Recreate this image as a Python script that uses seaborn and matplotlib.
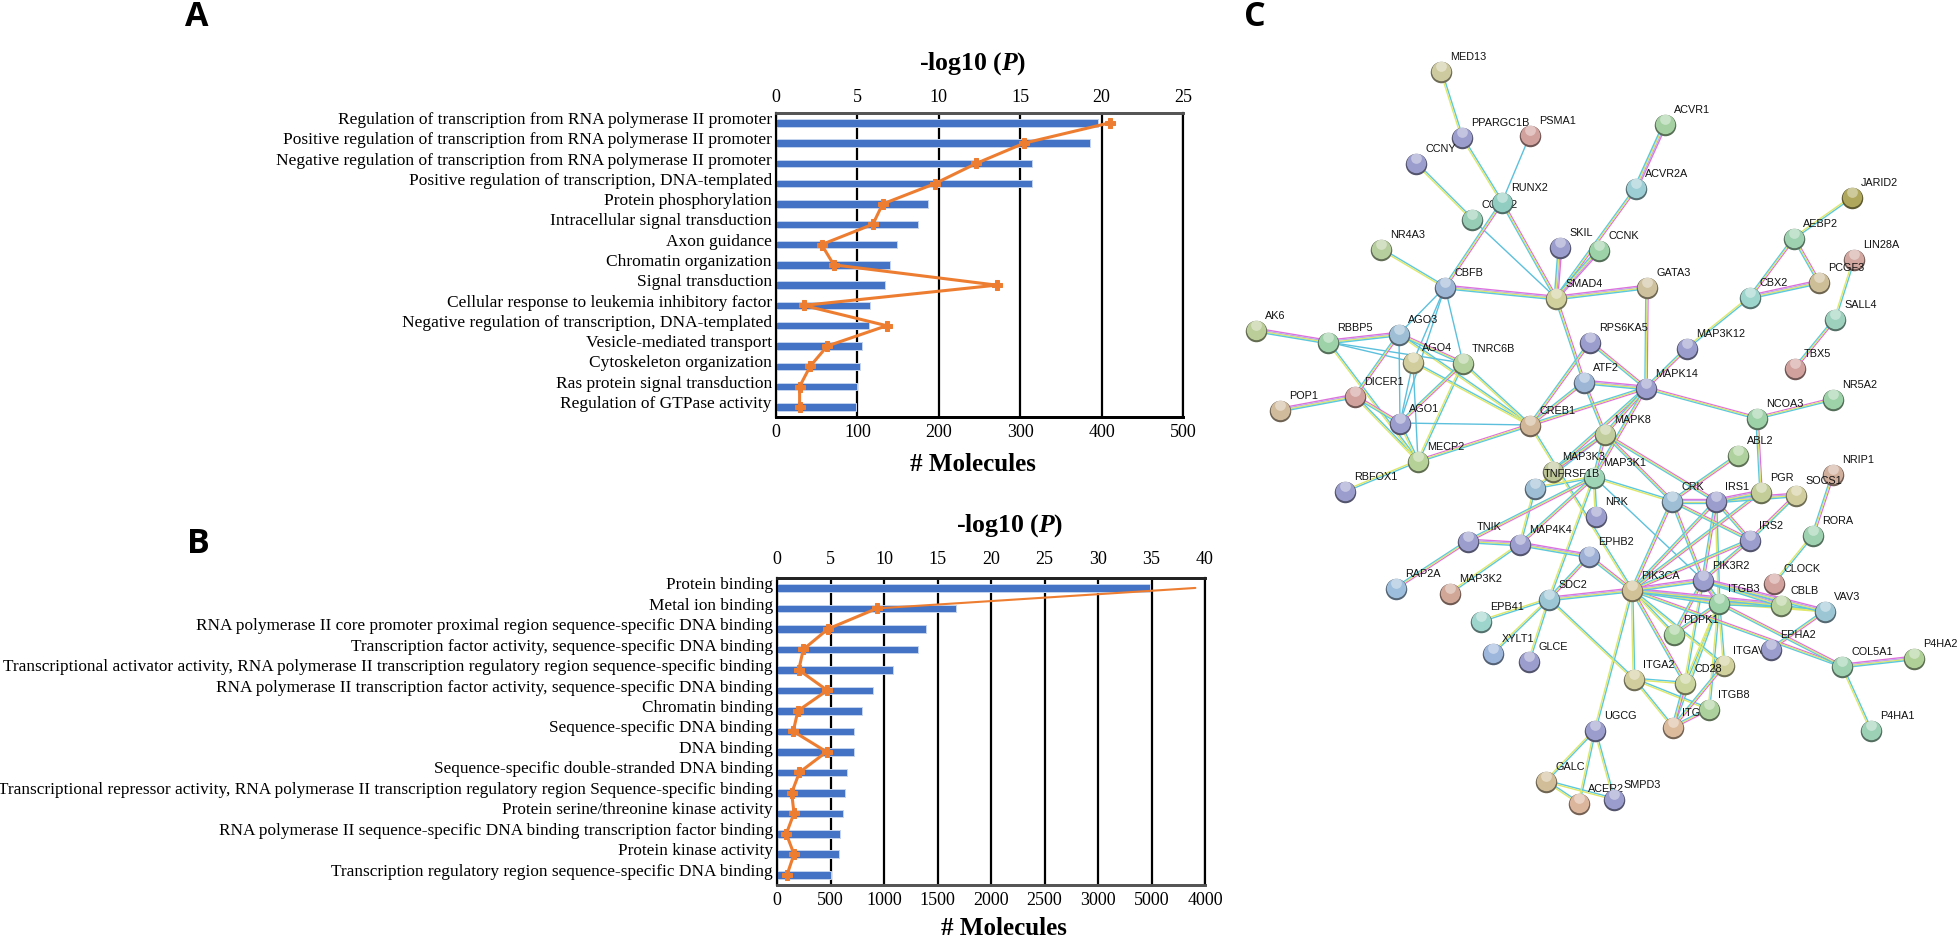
import numpy as np
import matplotlib
matplotlib.use('Agg')
import matplotlib.pyplot as plt
import seaborn as sns
from matplotlib.collections import LineCollection
from matplotlib.transforms import ScaledTranslation

W, H = 1960, 938

# panel A
cats_a = ['Regulation of transcription from RNA polymerase II promoter',
          'Positive regulation of transcription from RNA polymerase II promoter',
          'Negative regulation of transcription from RNA polymerase II promoter',
          'Positive regulation of transcription, DNA-templated',
          'Protein phosphorylation',
          'Intracellular signal transduction',
          'Axon guidance',
          'Chromatin organization',
          'Signal transduction',
          'Cellular response to leukemia inhibitory factor',
          'Negative regulation of transcription, DNA-templated',
          'Vesicle-mediated transport',
          'Cytoskeleton organization',
          'Ras protein signal transduction',
          'Regulation of GTPase activity']
mol_a = [395, 386, 314, 314, 187, 175, 149, 140, 134, 115, 114, 106, 103, 100, 98]
logp_a = [20.5, 15.25, 12.3, 9.75, 6.55, 5.95, 2.8, 3.55, 13.55, 1.7, 6.8, 3.15, 2.1, 1.45, 1.45]
mol_ticks_a = [0, 100, 200, 300, 400, 500]
p_ticks_a = [0, 5, 10, 15, 20, 25]

# panel B
cats_b = ['Protein binding',
          'Metal ion binding',
          'RNA polymerase II core promoter proximal region sequence-specific DNA binding',
          'Transcription factor activity, sequence-specific DNA binding',
          'Transcriptional activator activity, RNA polymerase II transcription regulatory region sequence-specific binding',
          'RNA polymerase II transcription factor activity, sequence-specific DNA binding',
          'Chromatin binding',
          'Sequence-specific DNA binding',
          'DNA binding',
          'Sequence-specific double-stranded DNA binding',
          'Transcriptional repressor activity, RNA polymerase II transcription regulatory region Sequence-specific binding',
          'Protein serine/threonine kinase activity',
          'RNA polymerase II sequence-specific DNA binding transcription factor binding',
          'Protein kinase activity',
          'Transcription regulatory region sequence-specific DNA binding']
mol_b = [3486, 1671, 1396, 1316, 1085, 897, 796, 716, 716, 658, 637, 615, 586, 579, 506]
logp_b = [39.1, 9.33, 4.77, 2.46, 2.03, 4.7, 1.95, 1.52, 4.63, 2.1, 1.37, 1.59, 0.87, 1.59, 0.94]
mol_ticks_b = [0, 500, 1000, 1500, 2000, 2500, 3000, 3500, 4000]
mol_labels_b = ['0', '500', '1000', '1500', '2000', '2500', '3000', '5000', '4000']
p_ticks_b = [0, 5, 10, 15, 20, 25, 30, 35, 40]

# panel C network, pixel layout of the picture
node_names = ['MED13', 'PPARGC1B', 'PSMA1', 'CCNY', 'CCNT2', 'RUNX2', 'ACVR1', 'ACVR2A', 'SKIL', 'CCNK',
              'NR4A3', 'JARID2', 'AEBP2', 'LIN28A', 'PCGF3', 'GATA3', 'CBX2', 'SMAD4', 'CBFB', 'SALL4',
              'TBX5', 'AK6', 'RBBP5', 'AGO3', 'AGO4', 'TNRC6B', 'RPS6KA5', 'MAP3K12', 'ATF2', 'MAPK14',
              'DICER1', 'POP1', 'AGO1', 'CREB1', 'NCOA3', 'NR5A2', 'MAPK8', 'ABL2', 'MECP2', 'MAP3K3',
              'MAP3K1', 'TNFRSF1B', 'RBFOX1', 'NRIP1', 'PGR', 'SOCS1', 'CRK', 'IRS1', 'NRK', 'IRS2',
              'TNIK', 'MAP4K4', 'RORA', 'EPHB2', 'PIK3R2', 'CLOCK', 'RAP2A', 'MAP3K2', 'SDC2', 'PIK3CA',
              'ITGB3', 'CBLB', 'VAV3', 'EPB41', 'PDPK1', 'XYLT1', 'GLCE', 'ITGAV', 'EPHA2', 'COL5A1',
              'P4HA2', 'ITGA2', 'CD28', 'ITGB1', 'ITGB8', 'UGCG', 'P4HA1', 'GALC', 'ACER2', 'SMPD3']
node_x = [1441, 1462, 1530, 1416, 1472, 1502, 1665, 1636, 1560, 1599,
          1381, 1852, 1794, 1854, 1819, 1647, 1750, 1556, 1445, 1835,
          1795, 1256, 1328, 1399, 1413, 1463, 1590, 1687, 1584, 1646,
          1355, 1280, 1400, 1530, 1757, 1833, 1605, 1738, 1418, 1553,
          1594, 1535, 1345, 1833, 1761, 1796, 1672, 1716, 1596, 1750,
          1468, 1520, 1813, 1589, 1703, 1774, 1396, 1450, 1549, 1632,
          1719, 1781, 1825, 1481, 1674, 1493, 1529, 1724, 1771, 1842,
          1914, 1634, 1685, 1673, 1709, 1595, 1871, 1546, 1579, 1614]
node_y = [71, 137, 135, 163, 219, 202, 124, 188, 247, 250,
          249, 197, 238, 259, 282, 287, 297, 298, 287, 319,
          368, 330, 342, 334, 362, 363, 342, 348, 382, 388,
          396, 410, 423, 425, 418, 399, 434, 455, 461, 471,
          477, 488, 491, 474, 492, 495, 501, 501, 516, 540,
          541, 544, 535, 556, 580, 583, 588, 593, 599, 590,
          603, 605, 611, 621, 634, 653, 661, 665, 649, 666,
          658, 679, 683, 727, 709, 730, 730, 781, 803, 799]
node_cols = ['#d9d5a8', '#a3a5d8', '#dca9a5', '#a3a5d8', '#9fd8bf', '#9ad8cb', '#aedcaa', '#a5d8e0', '#a3a5d8', '#a5dcb0',
             '#c0d8a5', '#b8b060', '#a5dcb8', '#dcb0a8', '#d9c8a0', '#d9cba5', '#a5e0d8', '#dcdca5', '#a5c0e0', '#a5dcc8',
             '#dca9a5', '#c5d8a0', '#a5dcb0', '#a5c8e0', '#dcd8a5', '#bcdca5', '#a3a5d8', '#a3a5d8', '#a5c0e0', '#a3a5d8',
             '#dca9a5', '#dcc5a5', '#a3a5d8', '#dcc0a0', '#a5dcb0', '#a5dcb0', '#ccd8a5', '#b8dca5', '#c0dca0', '#c8d0a0',
             '#a5e0c0', '#a5c8e0', '#a3a5d8', '#dcb8a5', '#ccd8a0', '#dcd8a5', '#a5c8e0', '#a3a5d8', '#a3a5d8', '#a3a5d8',
             '#a3a5d8', '#a3a5d8', '#a5dcb8', '#a5b8e0', '#a3a5d8', '#dca9a5', '#a5c8e8', '#dcb0a0', '#a5d0e0', '#dccca0',
             '#a5dcb0', '#c0dca5', '#a5d0e0', '#a5e0d8', '#b0dca5', '#a5c0e8', '#a3a5d8', '#dcdca5', '#a3a5d8', '#a5dcb8',
             '#b8dca0', '#dcd8a5', '#d5e0a5', '#e8c5a5', '#b5dca5', '#a3a5d8', '#a5dcc0', '#dcc8a0', '#e8bfa5', '#a3a5d8']

thin_edges = 'MED13-PPARGC1B PPARGC1B-RUNX2 CCNY-CCNT2 NR4A3-CBFB JARID2-AEBP2 LIN28A-SALL4 CBX2-MAP3K12 RBBP5-MECP2 ' \
             'AGO1-MECP2 DICER1-MECP2 TNRC6B-CREB1 TNRC6B-MECP2 AGO4-CREB1 AGO3-CREB1 MECP2-RBFOX1 CREB1-PIK3CA ' \
             'MAPK8-TNFRSF1B MAP3K1-TNFRSF1B MAP3K1-CRK MAP3K1-NRK MAP3K1-SDC2 TNFRSF1B-MAP4K4 MAP4K4-MAP3K2 ' \
             'SDC2-EPB41 SDC2-XYLT1 SDC2-GLCE SDC2-ITGA2 PIK3CA-UGCG UGCG-GALC UGCG-ACER2 UGCG-SMPD3 GALC-ACER2 ' \
             'GALC-SMPD3 RORA-CLOCK COL5A1-P4HA1 PIK3CA-PDPK1 PIK3CA-ITGA2 PIK3CA-ITGAV PIK3CA-VAV3 ITGB3-VAV3 ' \
             'ITGA2-CD28 ITGA2-ITGB8 ITGA2-ITGB1 ITGB3-CD28 ITGB3-ITGB8 ITGB3-ITGB1 ITGB3-ITGAV PIK3R2-CD28 IRS1-ITGB3'.split()
cyan_edges = 'PSMA1-RUNX2 CCNT2-SMAD4 CBFB-AGO3 CBFB-AGO4 CBFB-TNRC6B CBFB-AGO1 RBBP5-AGO4 RBBP5-TNRC6B AGO3-AGO1 ' \
             'AGO4-AGO1 AGO4-MECP2 AGO1-CREB1 MAP3K1-PIK3R2'.split()
pink_edges = 'RUNX2-CBFB RUNX2-SMAD4 ACVR2A-SMAD4 AEBP2-CBX2 AEBP2-PCGF3 SALL4-TBX5 GATA3-MAPK14 RPS6KA5-CREB1 ' \
             'AGO3-TNRC6B AGO3-DICER1 TNRC6B-AGO1 DICER1-AGO1 ATF2-CREB1 MAPK14-CREB1 MAPK14-NCOA3 NCOA3-NR5A2 ' \
             'MAPK14-MAPK8 MAPK14-MAP3K3 MAPK14-MAP3K1 RPS6KA5-MAPK14 MAP3K12-MAPK14 MECP2-CREB1 MAPK8-MAP3K3 MAPK8-MAP3K1 ' \
             'MAPK8-CRK MAPK8-IRS1 TNIK-RAP2A EPHB2-SDC2 EPHB2-PIK3CA NCOA3-PGR ABL2-CRK CRK-IRS2 CRK-PIK3CA CRK-PIK3R2 ' \
             'IRS1-IRS2 IRS1-PIK3CA IRS1-PIK3R2 IRS2-SOCS1 IRS2-PIK3CA IRS2-PIK3R2 PGR-PIK3CA NRIP1-RORA VAV3-EPHA2 ' \
             'ITGB3-COL5A1 PIK3CA-COL5A1 PIK3CA-CD28 ITGB3-PDPK1 PIK3R2-PDPK1 ITGAV-ITGB1 CD28-ITGB1 ITGB8-ITGB1 ' \
             'MAP3K1-TNIK MAP3K1-MAP4K4 SMAD4-ATF2 ATF2-MAPK8'.split()
wide_edges = 'ACVR1-ACVR2A CBFB-SMAD4 SMAD4-GATA3 SKIL-SMAD4 CCNK-SMAD4 CBX2-PCGF3 ATF2-MAPK14 AK6-RBBP5 RBBP5-AGO3 ' \
             'POP1-DICER1 TNIK-MAP4K4 MAP4K4-EPHB2 SDC2-PIK3CA CRK-IRS1 IRS1-PGR IRS1-SOCS1 PIK3CA-PIK3R2 PIK3CA-ITGB3 ' \
             'PIK3CA-CBLB ITGB3-CBLB PIK3R2-CBLB PIK3R2-VAV3 ITGB3-PIK3R2 COL5A1-P4HA2'.split()

sns.set_theme(style='white')
plt.rcParams['font.family'] = ['Liberation Serif', 'DejaVu Serif']
plt.rcParams['mathtext.fontset'] = 'custom'
plt.rcParams['mathtext.bfit'] = 'Liberation Serif:italic:bold'
plt.rcParams['mathtext.rm'] = 'Liberation Serif:bold'

BLUE = '#4472c4'
ORANGE = '#ed7d31'


def px_axes(l, t, r, b):
    return fig.add_axes([l / W, 1 - b / H, (r - l) / W, (b - t) / H])


def bar_panel(box, cats, mol, logp, mol_ticks, mol_labels, p_ticks, title_xy, xlabel_xy,
              label_size, top_spine, bottom_spine, top_pad, thin_head):
    ax = px_axes(*box)
    sns.barplot(x=mol, y=cats, orient='h', color=BLUE, saturation=1, width=0.37,
                edgecolor='#c5d3ee', linewidth=0.7, ax=ax, zorder=4)
    ax.set_xlim(mol_ticks[0], mol_ticks[-1])
    ax.set_ylim(len(cats) - 0.5, -0.5)
    ax.set_xticks(mol_ticks)
    ax.set_xticklabels(mol_labels)
    ax.set_ylabel('')
    ax.set_xlabel('')
    ax.grid(axis='x', color='black', lw=1.6, zorder=3)
    ax.tick_params(axis='x', length=0, pad=5, labelsize=13, colors='black')
    ax.tick_params(axis='y', length=0, pad=3, labelsize=label_size, colors='black')
    # category labels sit a little above their bars
    shift = ScaledTranslation(0, 3.5 / 72, fig.dpi_scale_trans)
    for lab in ax.get_yticklabels():
        lab.set_transform(lab.get_transform() + shift)

    ax2 = ax.twiny()
    rows = np.arange(len(cats))
    start = 0
    if thin_head:
        # first stretch of the line is drawn thinner and without a marker
        sns.lineplot(x=logp[:2], y=rows[:2], sort=False, estimator=None, orient='y', color=ORANGE,
                     lw=1.5, ax=ax2)
        start = 1
    sns.lineplot(x=logp[start:], y=rows[start:], sort=False, estimator=None, orient='y', color=ORANGE,
                 lw=2.2, marker='P', markersize=7, markeredgecolor=ORANGE, ax=ax2)
    ax2.set_xlim(p_ticks[0], p_ticks[-1])
    ax2.set_ylim(len(cats) - 0.5, -0.5)
    ax2.set_xticks(p_ticks)
    ax2.set_ylabel('')
    ax2.set_xlabel('')
    ax2.tick_params(axis='x', length=0, pad=top_pad, labelsize=13, colors='black')
    ax2.grid(False)
    for a in (ax, ax2):
        for name, sp in a.spines.items():
            sp.set_visible(True)
            sp.set_color('black')
            sp.set_linewidth(1.5)
        a.spines['top'].set_color(top_spine)
        a.spines['top'].set_linewidth(2)
        a.spines['bottom'].set_color(bottom_spine)
        a.spines['bottom'].set_linewidth(2)
    fig.text(title_xy[0] / W, 1 - title_xy[1] / H, r'-log10 ($\mathbfit{P}$)', ha='center', va='center',
             fontsize=18.5, fontweight='bold', color='black')
    fig.text(xlabel_xy[0] / W, 1 - xlabel_xy[1] / H, '# Molecules', ha='center', va='center',
             fontsize=18, fontweight='bold', color='black')


def draw_network():
    ax = px_axes(1220, 0, W, H)
    ax.set_xlim(1220, W)
    ax.set_ylim(H, 0)
    ax.axis('off')
    pos = dict(zip(node_names, zip(node_x, node_y)))

    def add_edges(edges, offsets, colors, lw):
        for off, col in zip(offsets, colors):
            segs = []
            for e in edges:
                a, b = e.split('-', 1)
                p, q = np.array(pos[a], float), np.array(pos[b], float)
                d = q - p
                n = np.array([-d[1], d[0]]) / np.hypot(*d)
                segs.append([p + n * off, q + n * off])
            ax.add_collection(LineCollection(segs, colors=col, linewidths=lw, zorder=1))

    add_edges(thin_edges, [-0.8, 0.8], ['#5cc8dc', '#dfe86a'], 1.0)
    add_edges(cyan_edges, [0], ['#5cc0dc'], 1.0)
    add_edges(pink_edges, [-1.2, 0, 1.2], ['#e070dc', '#dfe86a', '#5cc8dc'], 0.9)
    add_edges(wide_edges, [-1.8, -0.6, 0.6, 1.8], ['#e070dc', '#c0a8ec', '#dfe86a', '#5cc8dc'], 1.0)

    # every node carries its label, later nodes cover earlier labels
    for i, name in enumerate(node_names):
        x, y, col = node_x[i], node_y[i], node_cols[i]
        z = 10 + i * 3
        rgb = np.array(matplotlib.colors.to_rgb(col))
        ax.scatter([x], [y + 0.6], s=240, color=rgb * 0.5, linewidths=0, zorder=z)
        ax.scatter([x], [y], s=195, color=rgb * 0.95, linewidths=0, zorder=z)
        ax.scatter([x], [y - 5], s=60, color='white', alpha=0.4, linewidths=0, zorder=z)
        ax.text(x + 9, y - 14, name, fontsize=7.8, family='Liberation Sans', color='#111111',
                ha='left', va='center', zorder=z + 1)


fig = plt.figure(figsize=(W / 100, H / 100), dpi=100)
bar_panel((776, 112.7, 1183, 417), cats_a, mol_a, logp_a, mol_ticks_a, mol_ticks_a, p_ticks_a,
          (973, 64), (973, 464), 12.5, '#555555', 'black', 5, False)
bar_panel((777, 577.7, 1205, 885), cats_b, mol_b, logp_b, mol_ticks_b, mol_labels_b, p_ticks_b,
          (1010, 526), (1004, 928), 12.4, '#222222', '#555555', 7, True)
draw_network()

for letter, x, y in [('A', 197, 26), ('B', 198, 553), ('C', 1255, 26)]:
    fig.text(x / W, 1 - y / H, letter, fontsize=24.5, fontweight='bold', family='Open Sans',
             ha='center', va='baseline', color='black')

fig.savefig('out.png', dpi=100)
